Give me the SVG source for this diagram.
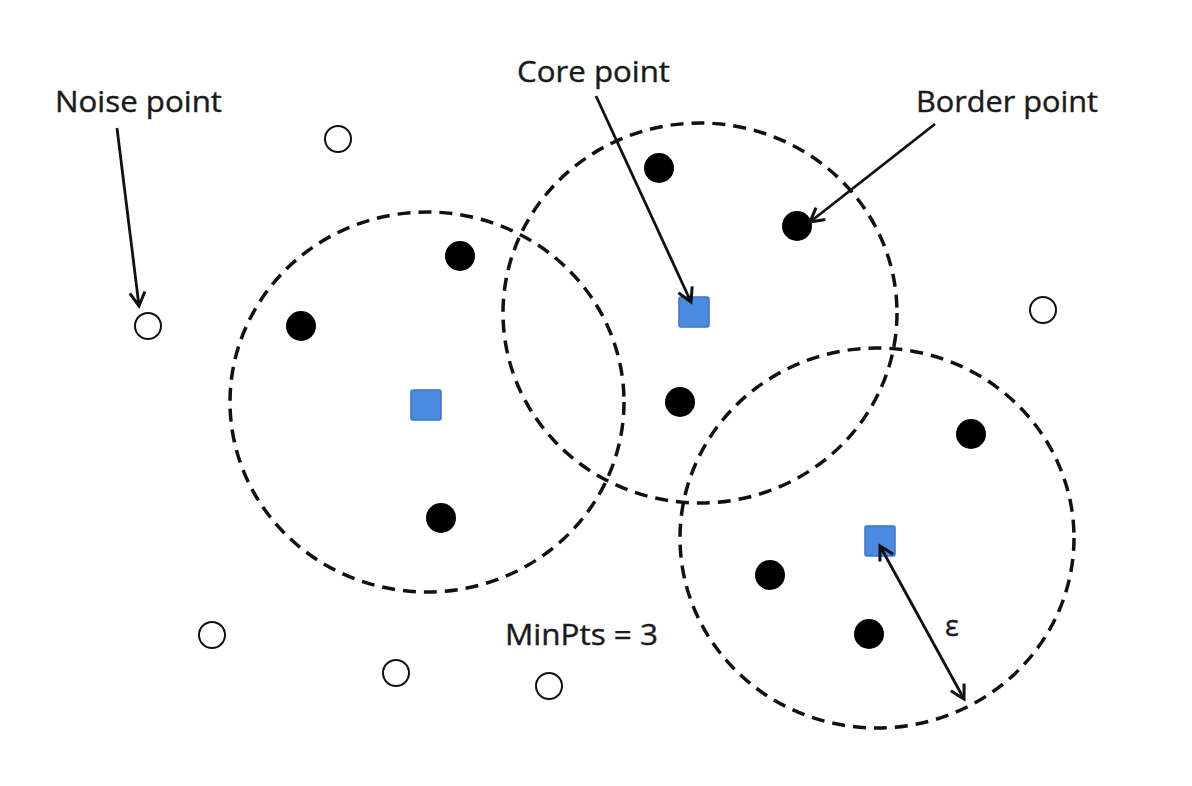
<svg xmlns="http://www.w3.org/2000/svg" width="1192" height="786" viewBox="0 0 1192 786">
<defs>
<style>
.eps{fill:none;stroke:#111;stroke-width:3.5;stroke-dasharray:13 8}
.core{fill:#4a8be0;stroke:#3a76c8;stroke-width:1.5}
.border{fill:#000}
.noise{fill:#fff;stroke:#111;stroke-width:2}
.lbl{font-family:"Open Sans","Liberation Sans",sans-serif;font-size:29px;fill:#1a1a1a;stroke:#1a1a1a;stroke-width:0.4}
.arr{stroke:#111;stroke-width:2.8;fill:none}
</style>
<marker id="ah" viewBox="0 0 12 12" refX="10" refY="6" markerWidth="6.5" markerHeight="6.5" orient="auto-start-reverse" markerUnits="strokeWidth">
<path d="M1 1 L10 6 L1 11" fill="none" stroke="#111" stroke-width="2"/>
</marker>
</defs>
<rect width="1192" height="786" fill="#fff"/>
<g id="regions">
<ellipse class="eps" cx="427" cy="402" rx="197" ry="190"/>
<ellipse class="eps" cx="700" cy="313" rx="197" ry="190"/>
<ellipse class="eps" cx="877" cy="538" rx="197" ry="190"/>
</g>
<g id="core-points">
<rect class="core" x="411" y="390" width="30" height="30" rx="2"/>
<rect class="core" x="679" y="297" width="30" height="30" rx="2"/>
<rect class="core" x="865" y="526" width="30" height="30" rx="2"/>
</g>
<g id="border-points">
<circle class="border" cx="460" cy="256" r="15"/>
<circle class="border" cx="301" cy="326" r="15"/>
<circle class="border" cx="441" cy="518" r="15"/>
<circle class="border" cx="659" cy="168" r="15"/>
<circle class="border" cx="797" cy="226" r="15"/>
<circle class="border" cx="680" cy="402" r="15"/>
<circle class="border" cx="971" cy="434" r="15"/>
<circle class="border" cx="770" cy="575" r="15"/>
<circle class="border" cx="869" cy="634" r="15"/>
</g>
<g id="noise-points">
<circle class="noise" cx="338" cy="139" r="13"/>
<circle class="noise" cx="148" cy="326" r="13"/>
<circle class="noise" cx="1043" cy="310" r="13"/>
<circle class="noise" cx="212" cy="635" r="13"/>
<circle class="noise" cx="396" cy="673" r="13"/>
<circle class="noise" cx="549" cy="686" r="13"/>
</g>
<g id="connectors">
<line class="arr" x1="117" y1="128" x2="139" y2="306" marker-end="url(#ah)"/>
<line class="arr" x1="596" y1="96" x2="691" y2="302" marker-end="url(#ah)"/>
<line class="arr" x1="935" y1="124" x2="810" y2="222" marker-end="url(#ah)"/>
<line class="arr" x1="880" y1="546" x2="964" y2="699" marker-start="url(#ah)" marker-end="url(#ah)"/>
</g>
<g id="labels">
<text class="lbl" x="55" y="112" textLength="167" lengthAdjust="spacingAndGlyphs">Noise point</text>
<text class="lbl" x="517" y="82" textLength="153" lengthAdjust="spacingAndGlyphs">Core point</text>
<text class="lbl" x="916" y="112" textLength="182" lengthAdjust="spacingAndGlyphs">Border point</text>
<text class="lbl" x="505" y="645" textLength="153" lengthAdjust="spacingAndGlyphs">MinPts = 3</text>
<text class="lbl" x="945" y="636" font-size="38">ε</text>
</g>
</svg>
